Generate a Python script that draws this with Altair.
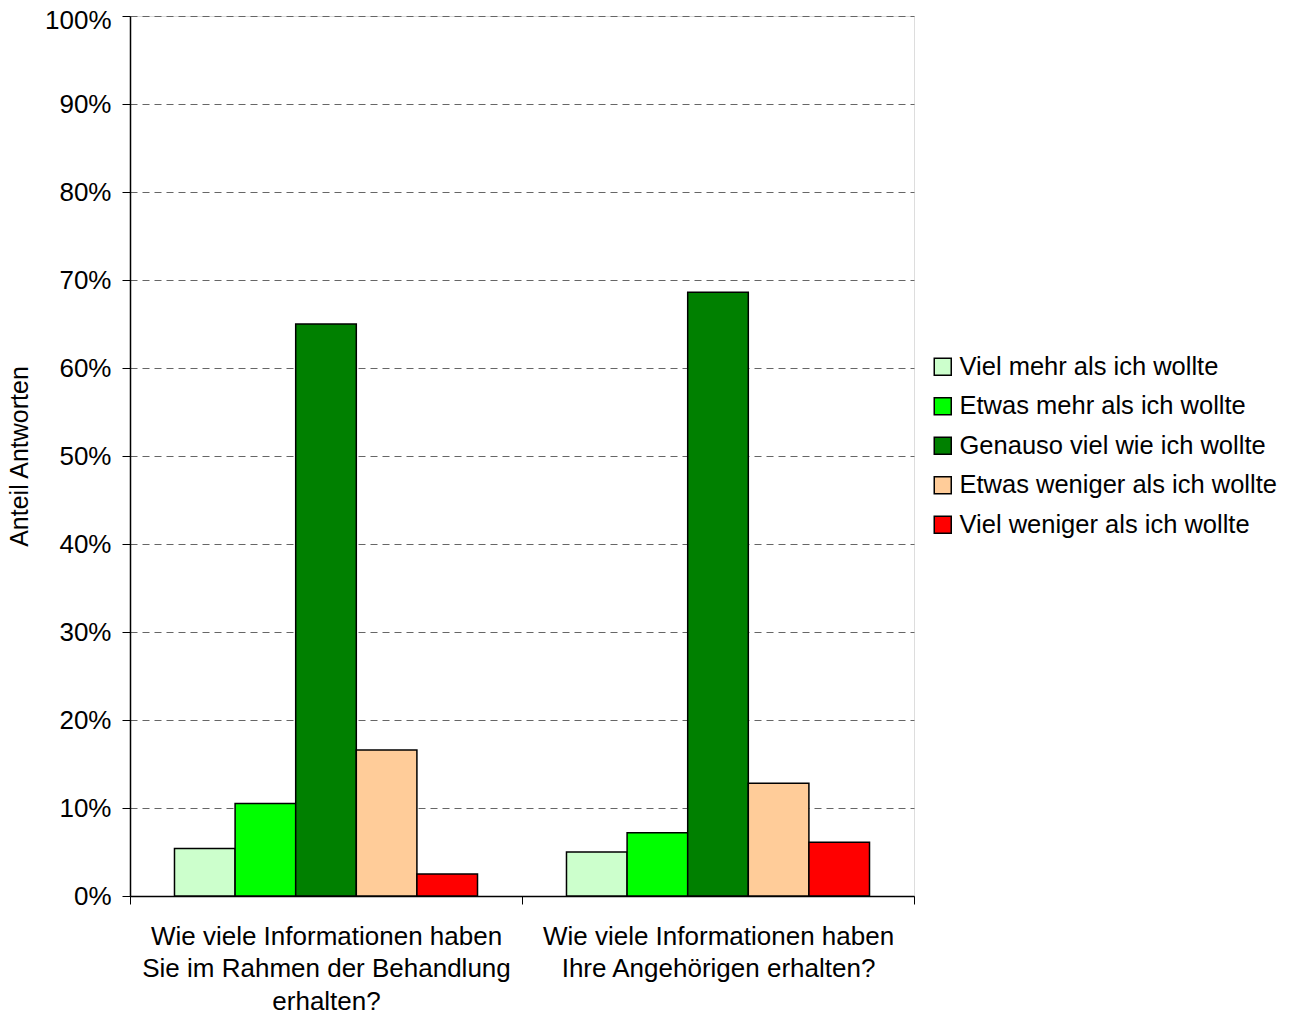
import altair as alt
import pandas as pd

questions = [
    "Wie viele Informationen haben\nSie im Rahmen der Behandlung\nerhalten?",
    "Wie viele Informationen haben\nIhre Angehörigen erhalten?",
]
answers = [
    "Viel mehr als ich wollte",
    "Etwas mehr als ich wollte",
    "Genauso viel wie ich wollte",
    "Etwas weniger als ich wollte",
    "Viel weniger als ich wollte",
]
colors = ["#CCFFCC", "#00FF00", "#008000", "#FFCC99", "#FF0000"]
values_q1 = [0.054, 0.105, 0.650, 0.166, 0.025]
values_q2 = [0.050, 0.072, 0.686, 0.128, 0.061]

rows = []
for q, vals in zip(questions, [values_q1, values_q2]):
    for i, (a, v) in enumerate(zip(answers, vals)):
        rows.append({"frage": q, "antwort": a, "ord": i, "anteil": v})
df = pd.DataFrame(rows)

FONT = "Liberation Sans"
FS = 26

chart = alt.Chart(df).mark_bar(stroke="black", strokeWidth=1.5).encode(
    x=alt.X(
        "frage:N",
        sort=questions,
        scale=alt.Scale(paddingInner=0, paddingOuter=0),
        axis=alt.Axis(
            title=None,
            labelAngle=0,
            labelExpr="split(datum.label, '\\n')",
            labelFontSize=FS,
            labelLineHeight=32.5,
            labelPadding=19,
            labelColor="black",
            labelFont=FONT,
            tickBand="extent",
            tickSize=8,
            tickColor="#000000",
            domainColor="#000000",
            domainWidth=1.5,
            labelLimit=500,
        ),
    ),
    xOffset=alt.XOffset(
        "antwort:N", sort=answers,
        scale=alt.Scale(paddingInner=0, paddingOuter=0.734),
    ),
    y=alt.Y(
        "anteil:Q",
        scale=alt.Scale(domain=[0, 1], nice=False),
        axis=alt.Axis(
            title="Anteil Antworten",
            titleFont=FONT,
            titleFontSize=25,
            titleFontWeight="normal",
            titleColor="black",
            titlePadding=12,
            format=".0%",
            values=[i / 10 for i in range(11)],
            labelFontSize=FS,
            labelFont=FONT,
            labelColor="black",
            labelPadding=11,
            labelOffset={"condition": {"test": "datum.value == 1", "value": 4}, "value": 0},
            tickSize=8,
            tickColor="#000000",
            domainColor="#000000",
            domainWidth=1.5,
            grid=True,
            gridColor="#666666",
            gridDash=[7, 5],
            gridWidth=1.2,
        ),
    ),
    color=alt.Color(
        "antwort:N",
        sort=answers,
        scale=alt.Scale(domain=answers, range=colors),
        legend=alt.Legend(
            title=None,
            orient="none",
            legendX=800,
            legendY=338,
            padding=0,
            labelFont=FONT,
            labelFontSize=25.5,
            labelColor="black",
            labelOffset=4,
            labelLimit=500,
            symbolType="square",
            symbolSize=289,
            symbolStrokeColor="black",
            symbolStrokeWidth=1.5,
            rowPadding=12.5,
        ),
    ),
).properties(
    width=784,
    height=880,
    autosize=alt.AutoSizeParams(type="none"),
    padding={"left": 122, "top": 8, "right": 370, "bottom": 118},
).configure_view(
    stroke="#999999", strokeWidth=1.5
).configure(background="white")

chart.save("out.html", embed_options={"renderer": "svg", "actions": False})
